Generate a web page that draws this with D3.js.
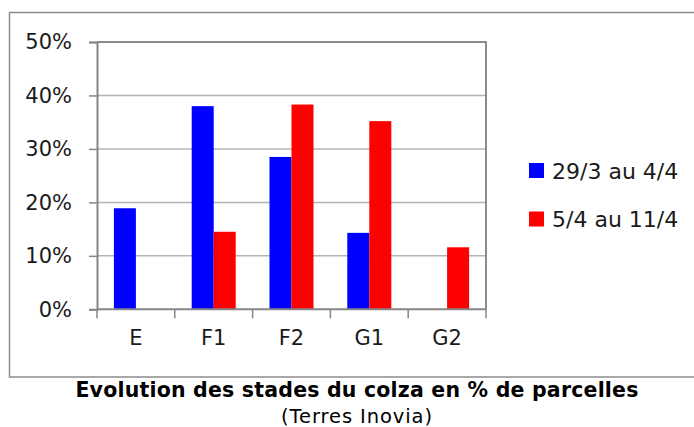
<!DOCTYPE html>
<html>
<head>
<meta charset="utf-8">
<script src="https://cdn.jsdelivr.net/npm/d3@7"></script>
<style>
  body { margin: 0; background: #fff; }
  svg { display: block; font-family: "DejaVu Sans", Verdana, sans-serif; }
</style>
</head>
<body>
<div id="main"></div>
<script>
const categories = ['E', 'F1', 'F2', 'G1', 'G2'];
const seriesNames = ['29/3 au 4/4', '5/4 au 11/4'];
const week1 = [0.189, 0.380, 0.285, 0.143, 0];
const week2 = [0, 0.145, 0.383, 0.352, 0.116];
const yTicks = [0, 0.1, 0.2, 0.3, 0.4, 0.5];
const colors = ['#0000ff', '#ff0000'];

const width = 694, height = 427;
const svg = d3.select('#main').append('svg').attr('width', width).attr('height', height);

// outer chart frame
svg.append('rect')
  .attr('x', 9.5).attr('y', 12.5)
  .attr('width', 700).attr('height', 364.5)
  .style('fill', 'none').style('stroke', '#8c8c8c').style('stroke-width', 1.5);

let plot = {left: 97, right: 486, top: 42, bottom: 309.3};

let x = d3.scaleBand().domain(categories).range([plot.left, plot.right]);
let xInner = d3.scaleBand().domain(seriesNames).range([0, x.bandwidth()]).paddingOuter(0.768);
let y = d3.scaleLinear().domain([0, 0.5]).range([plot.bottom, plot.top]);

// gridlines
svg.append('g').selectAll('line').data(yTicks.slice(1, -1)).join('line')
  .attr('x1', plot.left).attr('x2', plot.right)
  .attr('y1', d => y(d)).attr('y2', d => y(d))
  .style('stroke', '#b4b4b4').style('stroke-width', 1.5);

// bars
let data = categories.map((c, i) => ({cat: c, vals: [week1[i], week2[i]]}));
let groups = svg.append('g').selectAll('g').data(data).join('g')
  .attr('transform', d => `translate(${x(d.cat)},0)`);
groups.selectAll('rect').data(d => d.vals.map((v, j) => ({v, j}))).join('rect')
  .filter(d => d.v > 0)
  .attr('x', d => xInner(seriesNames[d.j]))
  .attr('width', xInner.bandwidth())
  .attr('y', d => y(d.v))
  .attr('height', d => plot.bottom - y(d.v))
  .style('fill', d => colors[d.j]);

// plot area border (top/right)
svg.append('path')
  .attr('d', `M${plot.left},${plot.top}H${plot.right}V${plot.bottom}`)
  .style('fill', 'none').style('stroke', '#8c8c8c').style('stroke-width', 2);

// y axis
let yAxis = svg.append('g').attr('transform', `translate(${plot.left},0)`)
  .call(d3.axisLeft(y).tickValues(yTicks).tickFormat(d3.format('.0%')).tickSize(8).tickPadding(17));
yAxis.select('.domain').style('stroke', '#868686').style('stroke-width', 2);
yAxis.selectAll('.tick line').style('stroke', '#868686').style('stroke-width', 1.5);
yAxis.selectAll('text').style('font-size', '21px').style('fill', '#1a1a1a')
  .style('font-family', '"DejaVu Sans", Verdana, sans-serif');

// x axis
let xAxis = svg.append('g').attr('transform', `translate(0,${plot.bottom})`)
  .call(d3.axisBottom(x).tickSize(0).tickPadding(21));
xAxis.select('.domain').remove();
xAxis.append('line').attr('x1', plot.left).attr('x2', plot.right)
  .style('stroke', '#868686').style('stroke-width', 2);
xAxis.selectAll('line.sep').data(d3.range(categories.length + 1)).join('line').classed('sep', true)
  .attr('x1', i => plot.left + i * x.step()).attr('x2', i => plot.left + i * x.step())
  .attr('y1', 0).attr('y2', 9)
  .style('stroke', '#868686').style('stroke-width', 1.5);
xAxis.selectAll('text').style('font-size', '21px').style('fill', '#1a1a1a')
  .style('font-family', '"DejaVu Sans", Verdana, sans-serif');

// legend
let legend = svg.append('g').selectAll('g').data(seriesNames).join('g')
  .attr('transform', (d, i) => `translate(529,${170.5 + i * 48.5})`);
legend.append('rect').attr('x', 0).attr('y', -7.5).attr('width', 15).attr('height', 15)
  .style('fill', (d, i) => colors[i]);
legend.append('text').attr('x', 23).attr('y', 8)
  .style('font-size', '22px').style('fill', '#1a1a1a')
  .text(d => d);

// title
svg.append('text').attr('x', 357).attr('y', 397).attr('text-anchor', 'middle')
  .style('font-size', '20.5px').style('font-weight', 'bold').style('letter-spacing', '0.2px')
  .text('Evolution des stades du colza en % de parcelles');
svg.append('text').attr('x', 357).attr('y', 423).attr('text-anchor', 'middle')
  .style('font-size', '19.5px').style('letter-spacing', '0.9px')
  .text('(Terres Inovia)');
</script>
</body>
</html>
